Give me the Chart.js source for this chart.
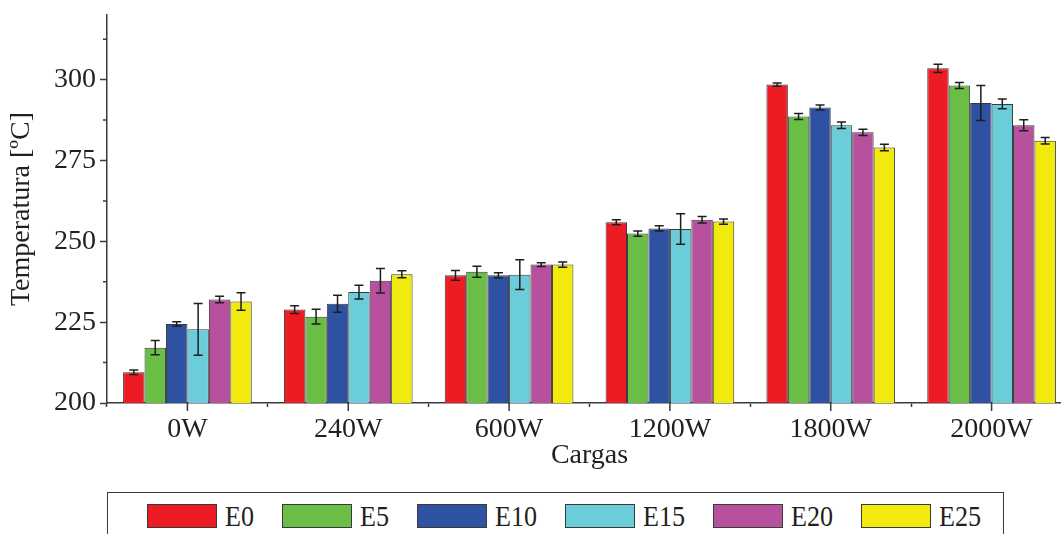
<!DOCTYPE html>
<html>
<head>
<meta charset="utf-8">
<script src="https://cdn.jsdelivr.net/npm/chart.js@4.4.1/dist/chart.umd.min.js"></script>
<style>
  html, body { margin: 0; padding: 0; background: #fff; overflow: hidden; }
  #wrap { position: relative; width: 1061px; height: 534px; overflow: hidden; }
  #chart { position: absolute; left: 0; top: 0; }
  #legend {
    position: absolute; left: 107px; top: 492px; width: 897px; height: 60px;
    border: 1px solid #3a3a3a; box-sizing: border-box;
    display: flex; align-items: flex-start; padding: 11px 0 0 39px;
    font-family: 'Liberation Serif', 'Times New Roman', serif; font-size: 29px; color: #231f20;
  }
  .item { display: flex; align-items: center; height: 24px; line-height: 24px; }
  .swatch { width: 70px; height: 24px; border: 1px solid #3a3a3a; box-sizing: border-box; margin-right: 8px; }
  .name { display: inline-block; transform: scaleX(0.9); transform-origin: left center; }
</style>
</head>
<body>
<div id="wrap">
  <canvas id="chart" width="1072" height="472"></canvas>
  <div id="legend"></div>
</div>
<script>
/* ── Data ── */
const categories = ['0W', '240W', '600W', '1200W', '1800W', '2000W'];
const seriesNames = ['E0', 'E5', 'E10', 'E15', 'E20', 'E25'];

const E0  = [209.5, 228.9, 239.5, 255.9, 298.5, 303.5];
const E5  = [217.1, 226.7, 240.6, 252.4, 288.6, 298.2];
const E10 = [224.4, 230.7, 239.5, 254.0, 291.4, 292.8];
const E15 = [222.8, 234.3, 239.7, 253.8, 285.9, 292.5];
const E20 = [232.0, 237.8, 242.8, 256.7, 283.7, 285.9];
const E25 = [231.4, 239.8, 242.8, 256.1, 279.0, 281.1];

const E0err  = [0.7, 1.2, 1.5, 0.8, 0.5, 1.3];
const E5err  = [2.2, 2.3, 1.7, 0.8, 0.9, 0.9];
const E10err = [0.7, 2.6, 0.8, 0.8, 0.8, 5.4];
const E15err = [8.0, 2.1, 4.6, 4.7, 1.0, 1.5];
const E20err = [1.0, 3.8, 0.6, 1.0, 1.0, 1.7];
const E25err = [2.7, 1.1, 0.8, 0.8, 1.0, 1.0];

const yMajorTicks = [200, 225, 250, 275, 300];
const yMinorTicks = [212.5, 237.5, 262.5, 287.5, 312.5];

const COLORS = ['#ed1c24', '#6abd45', '#2e51a2', '#6bccda', '#b7519e', '#f2ea0d'];
const INK = '#231f20';
const LINE = '#3a3a3a';
const FONT = "'Liberation Serif', 'Times New Roman', serif";

const seriesValues = [E0, E5, E10, E15, E20, E25];
const seriesErrors = [E0err, E5err, E10err, E15err, E20err, E25err];

/* ── Error bars ── */
const errorBars = {
  id: 'errorBars',
  afterDatasetsDraw(chart) {
    const { ctx } = chart;
    const y = chart.scales.y;
    ctx.save();
    ctx.strokeStyle = '#1e1e1e';
    ctx.lineWidth = 1.5;
    chart.data.datasets.forEach((ds, di) => {
      const meta = chart.getDatasetMeta(di);
      meta.data.forEach((bar, i) => {
        const v = ds.data[i], e = seriesErrors[di][i];
        const top = y.getPixelForValue(v + e);
        const bot = y.getPixelForValue(v - e);
        const cap = 4.5;
        ctx.beginPath();
        ctx.moveTo(bar.x, top); ctx.lineTo(bar.x, bot);
        ctx.moveTo(bar.x - cap, top); ctx.lineTo(bar.x + cap, top);
        ctx.moveTo(bar.x - cap, bot); ctx.lineTo(bar.x + cap, bot);
        ctx.stroke();
      });
    });
    ctx.restore();
  }
};

/* ── Major x ticks at category centres, short minor y ticks ── */
const extraTicks = {
  id: 'extraTicks',
  afterDraw(chart) {
    const { ctx } = chart;
    const x = chart.scales.x, y = chart.scales.y;
    ctx.save();
    ctx.strokeStyle = LINE;
    ctx.lineWidth = 1.5;
    ctx.beginPath();
    categories.forEach((c, i) => {
      const px = x.getPixelForValue(i);
      ctx.moveTo(px, x.top); ctx.lineTo(px, x.top + 8);
    });
    yMinorTicks.forEach((v) => {
      const py = y.getPixelForValue(v);
      ctx.moveTo(y.right, py); ctx.lineTo(y.right - 4, py);
    });
    ctx.stroke();
    ctx.restore();
  }
};

new Chart(document.getElementById('chart'), {
  type: 'bar',
  data: {
    labels: categories,
    datasets: seriesNames.map((name, i) => ({
      label: name,
      data: seriesValues[i],
      backgroundColor: COLORS[i],
      borderColor: LINE,
      borderWidth: 1,
      borderSkipped: false,
      categoryPercentage: 0.8,
      barPercentage: 1.0,
    }))
  },
  options: {
    responsive: false,
    animation: false,
    layout: { padding: { top: 15, right: 0, left: 0, bottom: 0 } },
    plugins: { legend: { display: false }, tooltip: { enabled: false } },
    scales: {
      x: {
        grid: { display: true, drawOnChartArea: false, offset: true, tickLength: 4, tickColor: LINE, tickWidth: 1.5 },
        border: { color: LINE, width: 1.5 },
        ticks: { color: INK, font: { family: FONT, size: 28 }, padding: 6, maxRotation: 0 },
        title: { display: true, text: 'Cargas', color: INK, font: { family: FONT, size: 28 }, padding: 0 },
        afterFit(s) { s.height = 472 - 403; },
      },
      y: {
        min: 200, max: 320,
        afterBuildTicks(s) {
          s.ticks = [...yMajorTicks, ...yMinorTicks].sort((a, b) => a - b).map(v => ({ value: v }));
        },
        grid: {
          display: true, drawOnChartArea: false, tickLength: 7, tickWidth: 1.5,
          tickColor: (c) => (c.tick && yMajorTicks.includes(c.tick.value)) ? LINE : 'rgba(0,0,0,0)',
        },
        border: { color: LINE, width: 1.5 },
        ticks: {
          color: INK, font: { family: FONT, size: 28 }, padding: 4,
          callback: (v) => yMajorTicks.includes(v) ? String(v) : '',
        },
        title: { display: true, text: 'Temperatura [ºC]', color: INK, font: { family: FONT, size: 28 }, padding: { top: 5, bottom: 0 } },
        afterFit(s) { s.width = 107; s.paddingTop = 0; s.paddingBottom = 0; },
      }
    }
  },
  plugins: [errorBars, extraTicks]
});

/* ── HTML legend ── */
const legend = document.getElementById('legend');
seriesNames.forEach((name, i) => {
  const item = document.createElement('div');
  item.className = 'item';
  item.innerHTML = `<span class="swatch" style="background:${COLORS[i]}"></span><span class="name">${name}</span>`;
  legend.appendChild(item);
  const label = item.querySelector('.name');
  // condensed text: pull the next item in by the width lost to the scale
  item.style.marginRight = (28 - label.offsetWidth * 0.1) + 'px';
});
</script>
</body>
</html>
